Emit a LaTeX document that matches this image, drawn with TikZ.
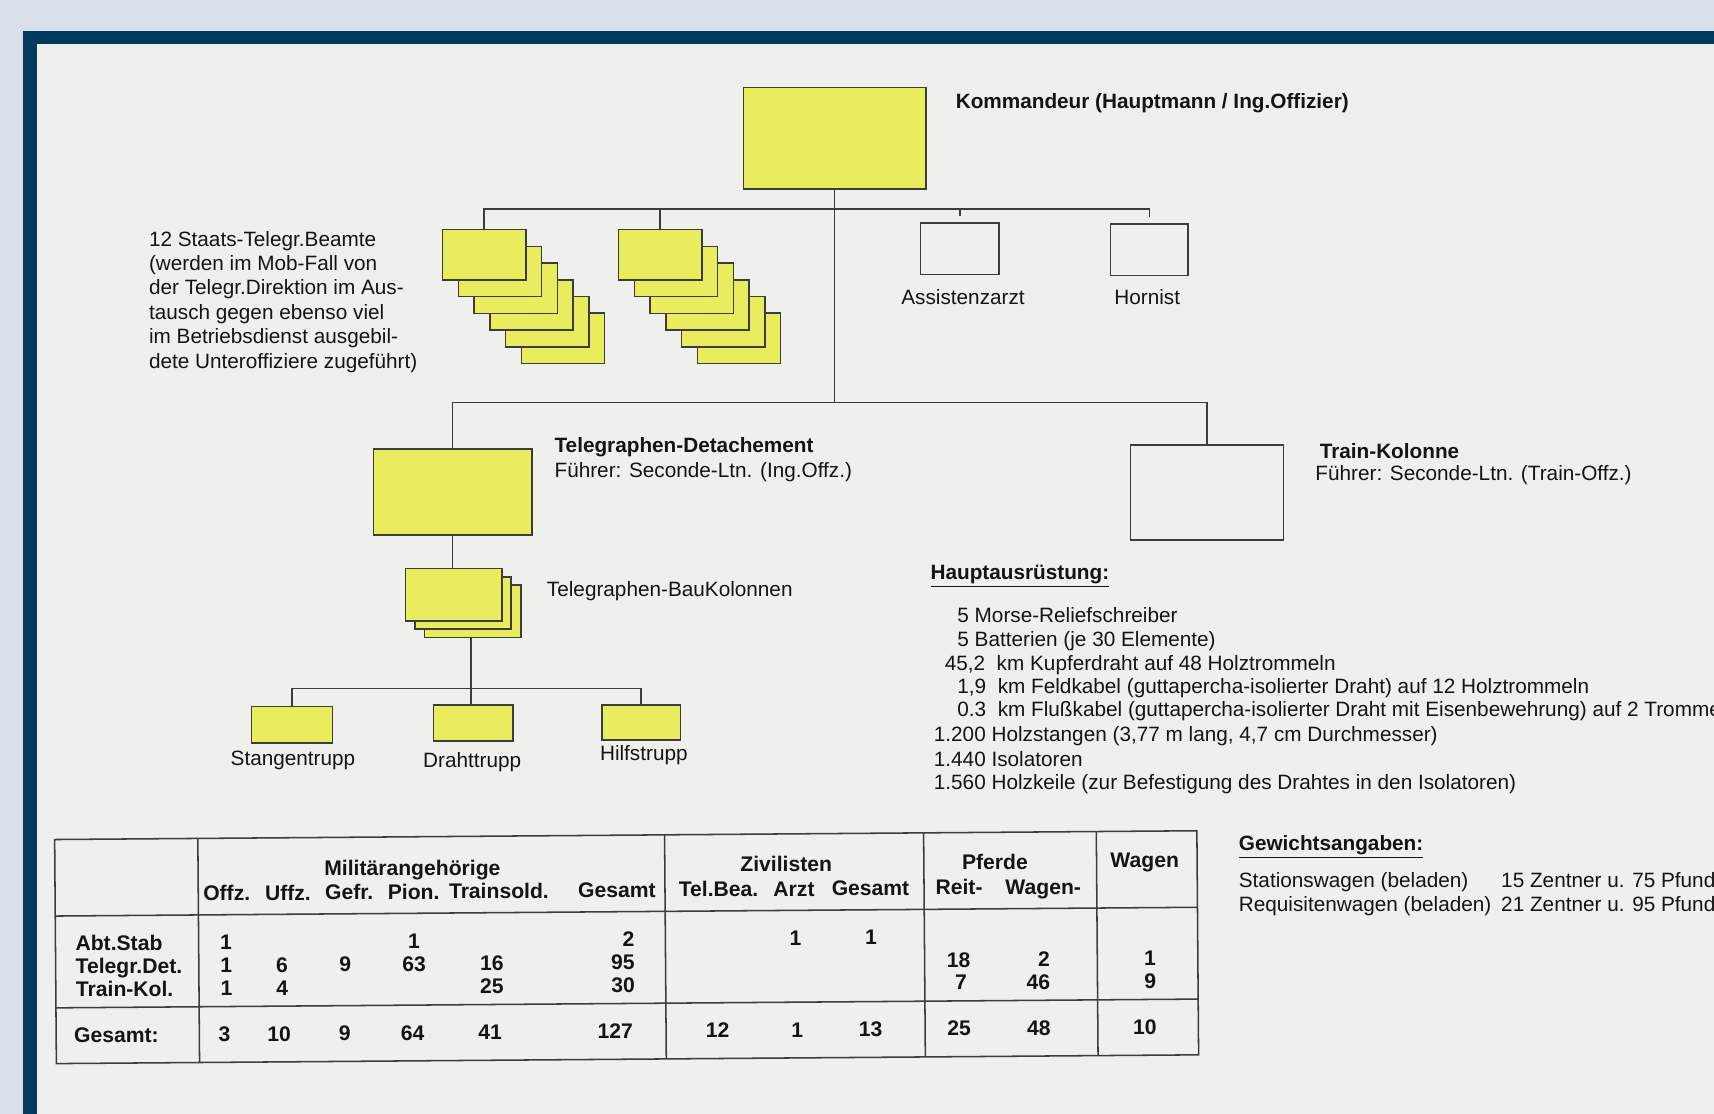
\documentclass[tikz,border=0pt]{standalone}
\usepackage{fontspec}
\setmainfont{Liberation Sans}
\usepackage{xcolor}
\usepackage{tikz}

\definecolor{bgblue}{HTML}{D8DFE9}
\definecolor{framenavy}{HTML}{003A5E}
\definecolor{paper}{HTML}{EFEFEC}
\definecolor{hlyellow}{RGB}{233,236,92}
\definecolor{ink}{HTML}{141414}
\definecolor{rule}{HTML}{3C3C3C}

\begin{document}
\begin{tikzpicture}[x=0.02cm, y=-0.02cm,
    orgbox/.style 2 args={draw=rule, line width=0.8pt, inner sep=0pt,
      minimum width=#1*0.02cm, minimum height=#2*0.02cm},
    yellowbox/.style={fill=hlyellow},
    orgline/.style={draw=rule, line width=0.8pt},
    txt/.style={inner sep=0pt, text=ink, anchor=base west,
      font=\fontsize{10.8}{12.7}\selectfont},
    boldtxt/.style={txt, font=\fontsize{10.8}{12.7}\selectfont\bfseries},
    tabcell/.style={inner sep=0pt, text=ink, anchor=base,
      font=\fontsize{11}{13}\selectfont\bfseries}]

    % Background and frame
    \fill[bgblue] (0,0) rectangle (1568,1019);
    \fill[framenavy] (21,28) rectangle (1568,1019);
    \fill[paper] (34,40) rectangle (1568,1019);
    \useasboundingbox (0,0) rectangle (1568,1019);

    % Kommandeur and staff
    \node[orgbox={167}{93}, yellowbox] (kdr) at (763.5,126.5) {};
    \node[boldtxt] (kdrlbl) at (874,99) {Kommandeur (Hauptmann / Ing.Offizier)};

    \foreach \i in {5,4,...,0} {
        \node[orgbox={76}{46}, yellowbox] (sta\i) at ({443+14.4*\i},{233+15.3*\i}) {};
        \node[orgbox={76}{46}, yellowbox] (stb\i) at ({604+14.4*\i},{233+15.3*\i}) {};
    }
    \node[txt, anchor=north west, align=left] (beamtelbl) at (136,211)
        {12 Staats-Telegr.Beamte\\(werden im Mob-Fall von\\der Telegr.Direktion im Aus-\\tausch gegen ebenso viel\\im Betriebsdienst ausgebil-\\dete Unteroffiziere zugeführt)};

    \node[orgbox={72}{47}, fill=paper] (arzt) at (878,227.5) {};
    \node[orgbox={71}{47}, fill=paper] (horn) at (1051.5,228.5) {};
    \node[txt, anchor=base] (arztlbl) at (881,279) {Assistenzarzt};
    \node[txt, anchor=base] (hornlbl) at (1049.5,279) {Hornist};

    \coordinate (staffbar) at (763.5,191);
    \coordinate (split) at (763.5,368);
    \draw[orgline] (kdr.south) -- (split);
    \draw[orgline] (sta0.north) |- (staffbar) -| ([yshift=0.12cm]horn.north);
    \draw[orgline] (stb0.north) -- (stb0.north |- staffbar);
    \draw[orgline] ([yshift=0.12cm]arzt.north) -- (arzt.north |- staffbar);

    % Detachement and Train
    \node[orgbox={145}{79}, yellowbox] (det) at (414,450) {};
    \node[boldtxt] (detlbl) at (507,414) {Telegraphen-Detachement};
    \node[txt] (detsub) at (507,437) {Führer: Seconde-Ltn. (Ing.Offz.)};

    \node[orgbox={140}{87}, fill=paper] (train) at (1104,450.5) {};
    \node[boldtxt] (trainlbl) at (1207,419) {Train-Kolonne};
    \node[txt] (trainsub) at (1203,440) {Führer: Seconde-Ltn. (Train-Offz.)};

    \draw[orgline] (det.north) |- (split) -| (train.north);

    % Bau-Kolonnen and Trupps
    \foreach \i in {2,1,0}
        \node[orgbox={88}{48}, yellowbox] (bau\i) at ({415+8.7*\i},{544+7.6*\i}) {};
    \node[txt] (baulbl) at (500,546) {Telegraphen-BauKolonnen};
    \draw[orgline] (det.south) -- (det.south |- bau0.north);

    \node[orgbox={74}{33}, yellowbox] (stang) at (267,663) {};
    \node[orgbox={73}{33}, yellowbox] (draht) at (433,661.5) {};
    \node[orgbox={72}{32}, yellowbox] (hilf) at (586.5,661) {};
    \node[txt, anchor=base] (stanglbl) at (268,700) {Stangentrupp};
    \node[txt, anchor=base] (drahtlbl) at (432,702) {Drahttrupp};
    \node[txt, anchor=base] (hilflbl) at (589,696) {Hilfstrupp};

    \coordinate (trbar) at (431,630);
    \draw[orgline] (bau2.south -| trbar) -- (trbar |- draht.north);
    \draw[orgline] (stang.north) |- (trbar) -| (hilf.north);

    % Hauptausruestung
    \node[boldtxt] (ausrlbl) at (851,530) {\underline{Hauptausrüstung:}};
    \node[txt] (ausr1) at (875.5,569.5) {5 Morse-Reliefschreiber};
    \node[txt] (ausr2) at (875.5,591.5) {5 Batterien (je 30 Elemente)};
    \node[txt] (ausr3) at (864,613) {45,2~~km Kupferdraht auf 48 Holztrommeln};
    \node[txt] (ausr4) at (875.5,634) {1,9~~km Feldkabel (guttapercha-isolierter Draht) auf 12 Holztrommeln};
    \node[txt] (ausr5) at (875.5,655.5) {0.3~~km Flußkabel (guttapercha-isolierter Draht mit Eisenbewehrung) auf 2 Trommeln};
    \node[txt] (ausr6) at (854,678.5) {1.200 Holzstangen (3,77 m lang, 4,7 cm Durchmesser)};
    \node[txt] (ausr7) at (854,701) {1.440 Isolatoren};
    \node[txt] (ausr8) at (854,722.5) {1.560 Holzkeile (zur Befestigung des Drahtes in den Isolatoren)};

    % Gewichtsangaben
    \node[boldtxt] (gewlbl) at (1133,778) {\underline{Gewichtsangaben:}};
    \node[txt] (gew1) at (1133,812) {Stationswagen (beladen)};
    \node[txt] (gew1w) at (1373,812) {15 Zentner u. 75 Pfund};
    \node[txt] (gew2) at (1133,834) {Requisitenwagen (beladen)};
    \node[txt] (gew2w) at (1373,834) {21 Zentner u. 95 Pfund};

    % Table
    \begin{scope}[rotate around={0.44:(50,768)}]
        \draw[orgline] (50,768) rectangle (1095,973);
        \draw[orgline] (50,838) -- (1095,838);
        \draw[orgline] (50,922) -- (1095,922);
        \foreach \x in {181,608,845,1003}
            \draw[orgline] (\x,768) -- (\x,973);

        \node[tabcell] (hmil) at (377,803) {Militärangehörige};
        \node[tabcell] (hziv) at (719,802) {Zivilisten};
        \node[tabcell] (hpf) at (910,802) {Pferde};
        \node[tabcell] (hwag) at (1047,801) {Wagen};
        \foreach \x/\t [count=\i] in {207/Offz., 263/Uffz., 319/Gefr., 378/Pion.,
            456/Trainsold., 564/Gesamt, 657/Tel.Bea., 726/Arzt, 796/Gesamt,
            877/Reit-, 954/Wagen-}
            \node[tabcell] (sub\i) at (\x,825) {\t};

        \node[tabcell, anchor=base west] (rstab) at (68,870) {Abt.Stab};
        \node[tabcell, anchor=base west] (rdet) at (68,891) {Telegr.Det.};
        \node[tabcell, anchor=base west] (rkol) at (68,912) {Train-Kol.};
        \node[tabcell, anchor=base west] (rsum) at (66,954) {Gesamt:};

        % centred entries
        \foreach \x/\t [count=\i] in {206/1, 378/1, 727/1, 796/1}
            \node[tabcell] (va\i) at (\x,870) {\t};
        \foreach \x/\t [count=\i] in {206/1, 257/6, 315/9, 378/63, 449/16, 876/18}
            \node[tabcell] (vb\i) at (\x,891) {\t};
        \foreach \x/\t [count=\i] in {206/1, 257/4, 449/25, 878/7}
            \node[tabcell] (vc\i) at (\x,912) {\t};
        \foreach \x/\t [count=\i] in {204/3, 254/10, 314/9, 376/64, 447/41,
            655/12, 728/1, 795/13, 876/25}
            \node[tabcell] (vd\i) at (\x,954) {\t};
        % right aligned entries
        \foreach \x/\y/\t [count=\i] in {580/870/2, 580/891/95, 960/891/2, 1057/891/1,
            580/912/30, 960/912/46, 1057/912/9, 578/954/127, 960/954/48, 1057/954/10}
            \node[tabcell, anchor=base east] (ve\i) at (\x,\y) {\t};
    \end{scope}
\end{tikzpicture}
\end{document}
